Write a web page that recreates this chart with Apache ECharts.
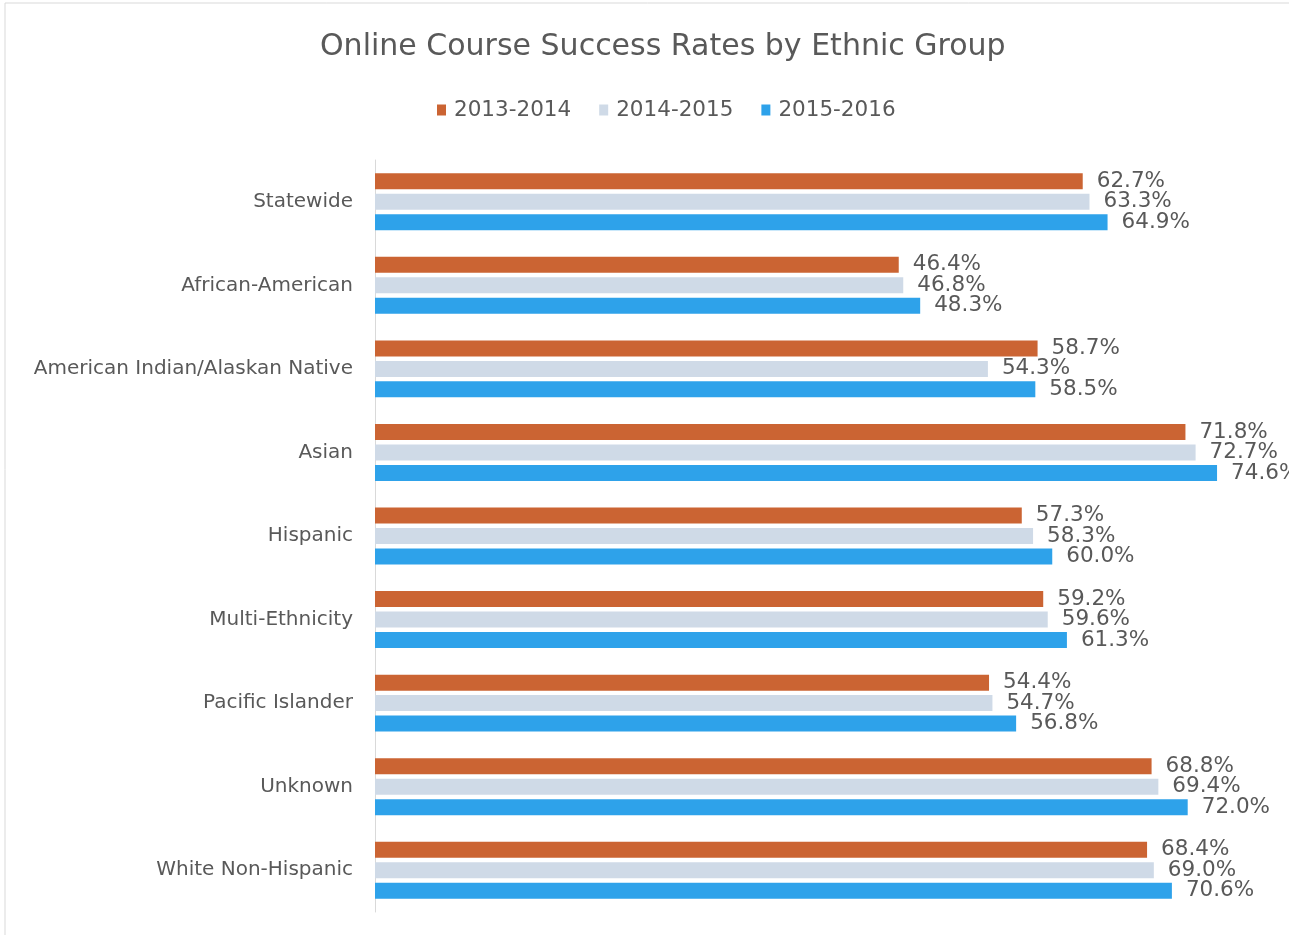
<!DOCTYPE html>
<html>
<head>
<meta charset="utf-8">
<script src="https://cdn.jsdelivr.net/npm/echarts@6/dist/echarts.min.js"></script>
<style>
  html, body { margin: 0; padding: 0; background: #fff; }
  #chart { width: 1289px; height: 935px; }
</style>
</head>
<body>
<div id="chart"></div>
<script>
// categories top to bottom
const groups = [
  'Statewide',
  'African-American',
  'American Indian/Alaskan Native',
  'Asian',
  'Hispanic',
  'Multi-Ethnicity',
  'Pacific Islander',
  'Unknown',
  'White Non-Hispanic'
]
const years = ['2013-2014', '2014-2015', '2015-2016']
const rate2013 = [62.7, 46.4, 58.7, 71.8, 57.3, 59.2, 54.4, 68.8, 68.4]
const rate2014 = [63.3, 46.8, 54.3, 72.7, 58.3, 59.6, 54.7, 69.4, 69.0]
const rate2015 = [64.9, 48.3, 58.5, 74.6, 60.0, 61.3, 56.8, 72.0, 70.6]
const colors = ['#CB6433', '#CFDAE7', '#2EA2EA']

const FONT = '"DejaVu Sans", sans-serif'
const chart = echarts.init(document.getElementById('chart'))

const makeSeries = (name, data, color) => ({
  name: name,
  type: 'bar',
  data: data,
  barWidth: 16,
  barGap: '28%',
  itemStyle: { color: color },
  label: {
    show: true,
    position: 'right',
    distance: 14,
    formatter: p => p.value.toFixed(1) + '%',
    color: '#595959',
    fontFamily: FONT,
    fontSize: 21.5
  }
})

chart.setOption({
  animation: false,
  title: {
    text: 'Online Course Success Rates by Ethnic Group',
    left: 315,
    top: 27,
    textStyle: { fontFamily: FONT, fontSize: 30, fontWeight: 'normal', color: '#595959' }
  },
  legend: {
    data: years,
    top: 94,
    left: 432,
    icon: 'rect',
    itemWidth: 9,
    itemHeight: 11,
    itemGap: 28,
    textStyle: { fontFamily: FONT, fontSize: 21.5, color: '#595959', padding: [0, 0, 0, 3] }
  },
  grid: { left: 375, right: 11, top: 160, bottom: 23, containLabel: false },
  xAxis: {
    type: 'value',
    min: 0,
    max: 80,
    show: false
  },
  yAxis: {
    type: 'category',
    data: groups,
    inverse: true,
    axisLine: { lineStyle: { color: '#D9D9D9', width: 1 } },
    axisTick: { show: false },
    axisLabel: { margin: 22, color: '#595959', fontFamily: FONT, fontSize: 20 }
  },
  graphic: [{
    type: 'rect',
    shape: { x: 5, y: 3, width: 1400, height: 1000 },
    style: { fill: 'none', stroke: '#D9D9D9', lineWidth: 1 },
    silent: true
  }],
  series: [
    makeSeries(years[0], rate2013, colors[0]),
    makeSeries(years[1], rate2014, colors[1]),
    makeSeries(years[2], rate2015, colors[2])
  ]
})
</script>
</body>
</html>
